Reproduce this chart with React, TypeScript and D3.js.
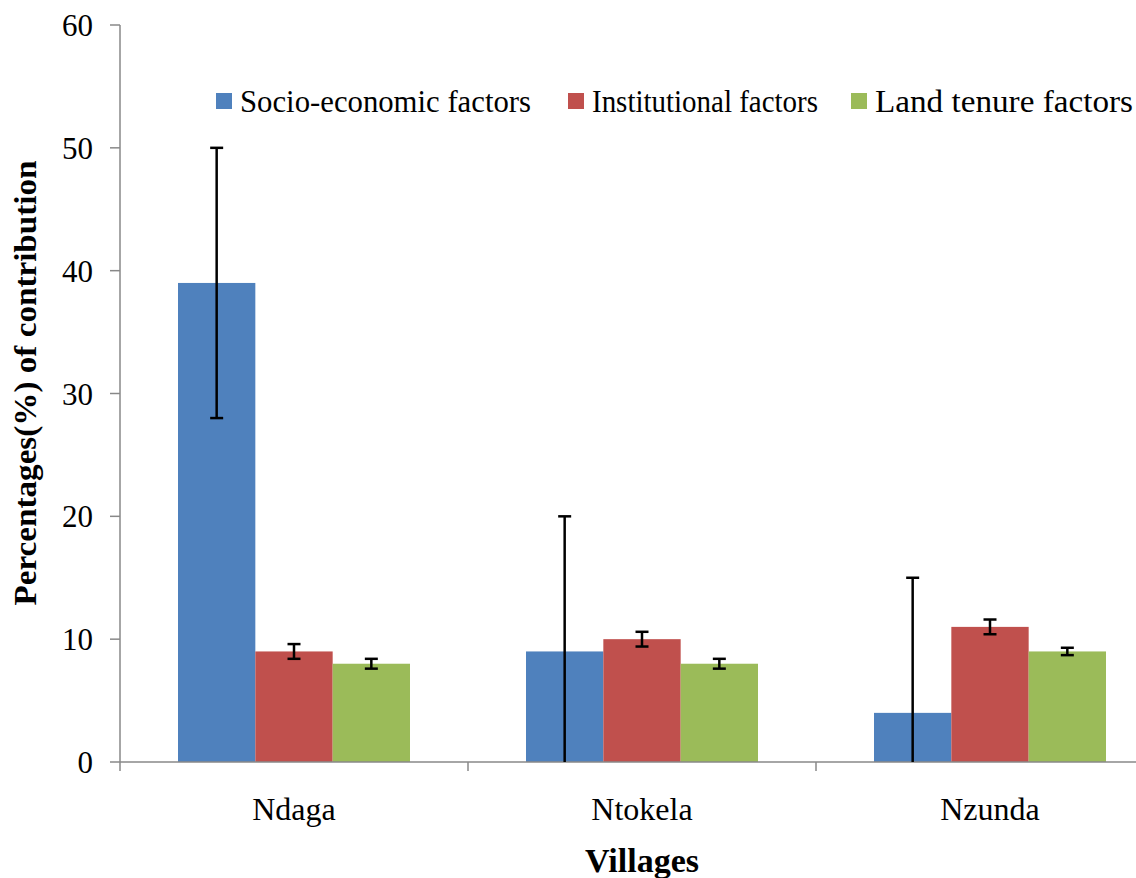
import React from "react";
import * as d3 from "d3";

const villages = ["Ndaga", "Ntokela", "Nzunda"];
const seriesNames = ["Socio-economic factors", "Institutional factors", "Land tenure factors"];
const seriesColors = ["#4F81BD", "#C0504D", "#9BBB59"];
const socioEconomic = [39, 9, 4];
const socioEconomicErr = [11, 11, 11];
const institutional = [9, 10, 11];
const institutionalErr = [0.6, 0.6, 0.6];
const landTenure = [8, 8, 9];
const landTenureErr = [0.4, 0.4, 0.3];
const yTicks = [0, 10, 20, 30, 40, 50, 60];

const values = [socioEconomic, institutional, landTenure];
const errors = [socioEconomicErr, institutionalErr, landTenureErr];

const W = 1136;
const H = 878;
const left = 120;
const catW = 348;
const top = 25;
const bottom = 762;

export default function App() {
  const x = d3.scaleBand<string>().domain(villages).range([left, left + catW * villages.length]).padding(0);
  const inner = d3.scaleBand<string>().domain(seriesNames).range([58, catW - 58]).padding(0);
  const y = d3.scaleLinear().domain([0, 60]).range([bottom, top]);
  const axisColor = "#888888";
  const font = "'Liberation Serif', 'Times New Roman', serif";
  const legendX = [216, 568, 851];
  const legendLen = [291, 226, 258];

  return (
    <svg width={W} height={H} style={{ position: "absolute", left: 0, top: 0, background: "#fff" }} fontFamily={font}>
      {/* y axis */}
      <line x1={left} x2={left} y1={y(60)} y2={y(0)} stroke={axisColor} strokeWidth={1.5} />
      {yTicks.map((t) => (
        <g key={t}>
          <line x1={left - 10} x2={left} y1={y(t)} y2={y(t)} stroke={axisColor} strokeWidth={1.5} />
          <text x={93} y={y(t)} dy="0.36em" textAnchor="end" fontSize={31} fill="#000">{t}</text>
        </g>
      ))}
      {/* bars */}
      {villages.map((v, i) => (
        <g key={v}>
          {seriesNames.map((s, j) => {
            const bx = (x(v) as number) + (inner(s) as number);
            const val = values[j][i];
            return (
              <rect key={s} x={bx} y={y(val)} width={inner.bandwidth()} height={y(0) - y(val)} fill={seriesColors[j]} />
            );
          })}
        </g>
      ))}
      {/* x axis */}
      <line x1={left} x2={left + catW * villages.length} y1={y(0)} y2={y(0)} stroke={axisColor} strokeWidth={1.5} />
      {d3.range(villages.length + 1).map((k) => (
        <line key={k} x1={left + k * catW} x2={left + k * catW} y1={y(0)} y2={y(0) + 9} stroke={axisColor} strokeWidth={1.5} />
      ))}
      {/* error bars */}
      {villages.map((v, i) => (
        <g key={v + "err"}>
          {seriesNames.map((s, j) => {
            const cx = (x(v) as number) + (inner(s) as number) + inner.bandwidth() / 2;
            const val = values[j][i];
            const e = errors[j][i];
            const hi = val + e;
            const loRaw = val - e;
            const lo = Math.max(0, loRaw);
            return (
              <g key={s} stroke="#000" strokeWidth={2.5}>
                <line x1={cx} x2={cx} y1={y(hi)} y2={y(lo)} />
                <line x1={cx - 6.5} x2={cx + 6.5} y1={y(hi)} y2={y(hi)} />
                {loRaw >= 0 && <line x1={cx - 6.5} x2={cx + 6.5} y1={y(lo)} y2={y(lo)} />}
              </g>
            );
          })}
        </g>
      ))}
      {/* x labels */}
      {villages.map((v) => (
        <text key={v} x={(x(v) as number) + catW / 2} y={820} textAnchor="middle" fontSize={32} fill="#000">{v}</text>
      ))}
      {/* axis titles */}
      <text x={642} y={872} textAnchor="middle" fontSize={34} fontWeight="bold" fill="#000">Villages</text>
      <text transform={`translate(36,383) rotate(-90)`} textAnchor="middle" fontSize={32} fontWeight="bold" fill="#000" textLength={445} lengthAdjust="spacingAndGlyphs">Percentages(%) of contribution</text>
      {/* legend */}
      {seriesNames.map((s, j) => (
        <g key={s + "leg"}>
          <rect x={legendX[j]} y={93} width={16} height={16} fill={seriesColors[j]} />
          <text x={legendX[j] + 24} y={112} fontSize={31} fill="#000" textLength={legendLen[j]} lengthAdjust="spacingAndGlyphs">{s}</text>
        </g>
      ))}
    </svg>
  );
}
